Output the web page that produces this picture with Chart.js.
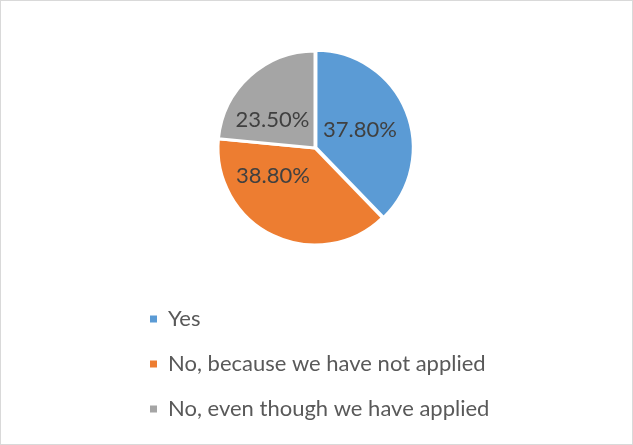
<!DOCTYPE html>
<html>
<head>
<meta charset="utf-8">
<script src="https://cdn.jsdelivr.net/npm/chart.js@4/dist/chart.umd.min.js"></script>
<style>
    body { margin: 0; background: #fff; }
    #chartContainer {
        width: 631px;
        height: 443px;
        border: 1px solid #d9d9d9;
    }
    #chartCanvas { display: block; }
</style>
</head>
<body>
<div id="chartContainer">
    <canvas id="chartCanvas" width="631" height="443"></canvas>
</div>
<script>
// data
const categories = ['Yes', 'No, because we have not applied', 'No, even though we have applied'];
const shares = [37.8, 38.8, 23.5];
const sliceColors = ['#5b9bd5', '#ed7d31', '#a5a5a5'];

const FONT = 'Lato, "Open Sans", sans-serif';

// draws the percentage inside each slice (no datalabels plugin available)
const sliceLabels = {
    id: 'sliceLabels',
    afterDatasetsDraw(chart, args, opts) {
        const ctx = chart.ctx;
        const meta = chart.getDatasetMeta(0);
        const values = chart.data.datasets[0].data;
        ctx.save();
        ctx.font = opts.size + 'px ' + FONT;
        ctx.fillStyle = opts.color;
        ctx.textAlign = 'center';
        ctx.textBaseline = 'middle';
        meta.data.forEach((arc, i) => {
            const p = arc.getProps(['x', 'y', 'startAngle', 'endAngle', 'outerRadius']);
            const mid = (p.startAngle + p.endAngle) / 2;
            const r = p.outerRadius * opts.radiusFactor;
            const nudge = opts.nudge[i] || [0, 0];
            const x = p.x + Math.cos(mid) * r + nudge[0];
            const y = p.y + Math.sin(mid) * r + nudge[1];
            ctx.fillText(values[i].toFixed(2) + '%', x, y);
        });
        ctx.restore();
    }
};

// default legend items, but without the white slice border round the box
const defaultLabels = Chart.overrides.pie.plugins.legend.labels.generateLabels;

const ctx = document.getElementById('chartCanvas').getContext('2d');
new Chart(ctx, {
    type: 'pie',
    data: {
        labels: categories,
        datasets: [{
            data: shares,
            backgroundColor: sliceColors,
            borderColor: '#ffffff',
            borderWidth: 3,
            offset: [4, 0, 0],
            radius: 97
        }]
    },
    options: {
        responsive: false,
        animation: false,
        layout: {
            padding: {top: 10, bottom: 14, left: 126, right: 129}
        },
        plugins: {
            tooltip: {enabled: false},
            legend: {
                position: 'bottom',
                align: 'start',
                labels: {
                    boxWidth: 7,
                    boxHeight: 7,
                    padding: 23,
                    color: '#595959',
                    font: {family: FONT, size: 22},
                    generateLabels: chart => defaultLabels(chart).map(item => {
                        item.lineWidth = 0;
                        return item;
                    })
                }
            },
            sliceLabels: {
                size: 22,
                color: '#404040',
                radiusFactor: 0.5,
                nudge: [[0, 0], [-21, -16], [-10, 8]]
            }
        }
    },
    plugins: [sliceLabels]
});
</script>
</body>
</html>
